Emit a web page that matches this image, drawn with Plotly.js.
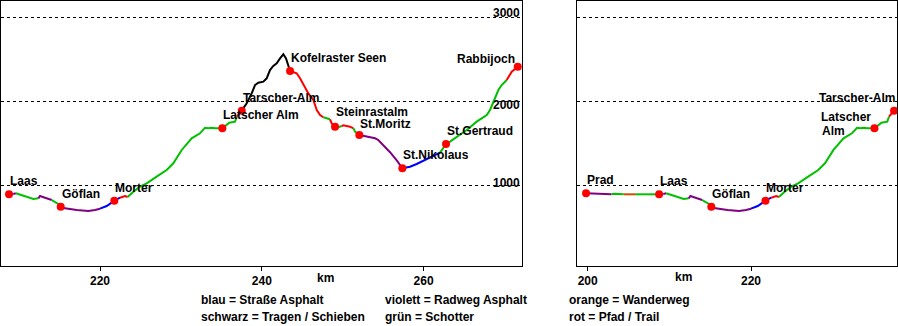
<!DOCTYPE html>
<html>
<head>
<meta charset="utf-8">
<script src="https://cdn.plot.ly/plotly-3.0.1.min.js"></script>
<style>html,body{margin:0;padding:0;background:#fff;}#chart{width:898px;height:326px;}</style>
</head>
<body>
<div id="chart"></div>
<script>
// ---- Data: route profile (km, elevation m) and surface of each segment starting at that point ----
const km = [199.8, 201.5, 202.9, 203.3, 204.4, 205.9, 208.45, 208.75, 209.28, 209.6,
  210.73, 211.76, 212.38, 212.58, 213.2, 214.03, 214.44, 214.85, 215.14, 215.46,
  217.12, 218.55, 219.38, 220.0, 220.82, 221.44, 221.77, 222.47, 223.09, 223.42,
  224.12, 224.94, 225.77, 227.0, 228.24, 229.06, 230.1, 231.33, 232.36, 232.98,
  233.39, 233.8, 234.2, 235.12, 235.66, 235.98, 236.69, 236.9, 237.52, 238.13,
  238.75, 239.16, 239.57, 240.19, 240.6, 241.01, 241.42, 241.84, 242.25, 242.66,
  242.99, 243.28, 243.49, 244.31, 244.72, 245.34, 245.75, 246.37, 246.79, 247.2,
  247.6, 248.43, 248.64, 249.05, 249.46, 249.88, 250.07, 250.9, 251.32, 251.52,
  252.05, 253.17, 254.0, 254.4, 255.02, 255.85, 256.7, 257.37, 258.32, 259.14,
  259.96, 260.79, 262.03, 262.77, 263.26, 264.09, 265.33, 266.56, 267.8, 268.21,
  268.83, 269.24, 269.65, 270.27, 270.89, 271.63];
const elev = [901, 893, 889, 897, 889, 889, 889, 889, 893, 901,
  869, 833, 841, 869, 849, 821, 801, 774, 742, 726,
  702, 690, 702, 718, 750, 790, 813, 849, 869, 857,
  920, 980, 1020, 1099, 1179, 1258, 1417, 1556, 1615, 1682,
  1675, 1682, 1675, 1675, 1714, 1742, 1754, 1813, 1885, 1972,
  2091, 2190, 2218, 2230, 2270, 2369, 2417, 2449, 2508, 2556,
  2508, 2408, 2357, 2330, 2270, 2170, 2091, 2012, 1893, 1833,
  1806, 1782, 1734, 1694, 1687, 1702, 1710, 1694, 1675, 1635,
  1595, 1575, 1556, 1536, 1476, 1390, 1290, 1199, 1218, 1250,
  1290, 1330, 1385, 1488, 1516, 1575, 1655, 1754, 1833, 1893,
  2051, 2131, 2190, 2250, 2349, 2408];
// b = blau, v = violett, o = orange, k = schwarz, g = grün, r = rot
const surface = ['v','v','g','g','o','g','b','b','v','g',
  'g','g','v','v','v','g','g','g','v','v',
  'v','v','v','b','b','b','b','r','r','g',
  'g','g','g','g','g','g','g','g','g','g',
  'g','g','g','g','g','g','g','r','k','k',
  'k','k','k','k','k','k','k','k','k','k',
  'k','k','r','r','r','r','r','r','r','r',
  'g','r','r','g','g','r','r','r','g','g',
  'v','v','v','v','v','v','v','b','b','b',
  'b','b','g','g','g','g','g','g','g','g',
  'g','g','g','r','r','r'];

const placeNames = ['Prad','Laas','Göflan','Morter','Latscher Alm','Tarscher-Alm','Kofelraster Seen','Steinrastalm','St.Moritz','St.Nikolaus','St.Gertraud','Rabbijoch'];
const placeKm   = [199.8, 208.75, 215.14, 221.77, 235.12, 237.52, 243.49, 249.05, 252.05, 257.37, 262.77, 271.63];
const placeElev = [901, 889, 742, 813, 1675, 1885, 2357, 1694, 1595, 1199, 1488, 2408];

const gridElev = [1000, 2000, 3000];
const xTicksLeft = [220, 240, 260];
const xTicksRight = [200, 220];

const legendRows = [
  ['blau = Straße Asphalt', 'violett = Radweg Asphalt', 'orange = Wanderweg'],
  ['schwarz = Tragen / Schieben', 'grün = Schotter', 'rot = Pfad / Trail']
];

// ---- Styles ----
const surfaceColors = {b:'#0000ff', v:'#800080', o:'#c85000', k:'#000000', g:'#00c000', r:'#ff0000'};
const FONT = {family:'"Liberation Sans", Arial, sans-serif', size:12, color:'#000', weight:'bold'};
const W = 898, H = 326;
const px = v => v / W, py = v => (H - v) / H;

function profileTraces(i0, i1, xa, ya) {
  const traces = [];
  let a = i0;
  while (a < i1) {
    let b = a + 1;
    while (b < i1 && surface[b] === surface[a]) b++;
    traces.push({x: km.slice(a, b + 1), y: elev.slice(a, b + 1), xaxis: xa, yaxis: ya,
      mode: 'lines', line: {color: surfaceColors[surface[a]], width: 2},
      hoverinfo: 'skip', showlegend: false});
    a = b;
  }
  return traces;
}

const iLaas = placeNames.indexOf('Laas');
const idxLaas = km.indexOf(placeKm[iLaas]);
const idxTarscher = km.indexOf(placeKm[placeNames.indexOf('Tarscher-Alm')]);

const data = [
  ...profileTraces(idxLaas, km.length - 1, 'x', 'y'),
  ...profileTraces(0, idxTarscher, 'x2', 'y2'),
  {x: placeKm, y: placeElev, xaxis: 'x', yaxis: 'y', mode: 'markers',
   marker: {color: '#ff0000', size: 8}, hoverinfo: 'skip', showlegend: false},
  {x: placeKm, y: placeElev, xaxis: 'x2', yaxis: 'y2', mode: 'markers',
   marker: {color: '#ff0000', size: 8}, hoverinfo: 'skip', showlegend: false}
];

const annotations = [];
function label(i, xr, yr, text, opts) {
  annotations.push(Object.assign({x: placeKm[i], y: placeElev[i], xref: xr, yref: yr,
    text: text, showarrow: false, font: FONT, xanchor: 'left', yanchor: 'middle',
    xshift: 0, yshift: 13, borderpad: 0}, opts || {}));
}
// left panel labels
for (let i = 1; i < placeNames.length; i++) {
  let o = {};
  if (placeNames[i] === 'Rabbijoch') o = {xanchor: 'right', xshift: -2, yshift: 8};
  if (placeNames[i] === 'Steinrastalm') o = {yshift: 15};
  if (placeNames[i] === 'St.Moritz') o = {yshift: 11};
  label(i, 'x', 'y', placeNames[i], o);
}
// right panel labels
for (let i = 0; i <= 5; i++) {
  const n = placeNames[i];
  if (n === 'Latscher Alm') {
    const parts = n.split(' ');
    label(i, 'x2', 'y2', parts[0], {xanchor: 'right', xshift: -2, yshift: 11});
    label(i, 'x2', 'y2', parts[1], {xanchor: 'left', xshift: -53, yshift: -3});
  } else if (n === 'Tarscher-Alm') {
    label(i, 'x2', 'y2', n, {xanchor: 'right', xshift: 2, yshift: 13});
  } else {
    label(i, 'x2', 'y2', n);
  }
}
// elevation labels (left panel only)
const gridShift = [2, -4, 3.5];
gridElev.forEach((g, j) => annotations.push({x: px(521), xref: 'paper', y: g, yref: 'y',
  text: String(g), showarrow: false, font: FONT, xanchor: 'right', yanchor: 'middle',
  yshift: gridShift[j], borderpad: 0}));
// km labels
annotations.push({x: px(325.5), y: py(278), xref: 'paper', yref: 'paper', text: 'km', showarrow: false, font: FONT, xanchor: 'center', yanchor: 'middle'});
annotations.push({x: px(683.5), y: py(277), xref: 'paper', yref: 'paper', text: 'km', showarrow: false, font: FONT, xanchor: 'center', yanchor: 'middle'});
// legend text
const colX = [200, 383.5, 567.5], rowY = [300, 317];
legendRows.forEach((row, r) => row.forEach((t, c) => annotations.push({x: px(colX[c]), y: py(rowY[r]),
  xref: 'paper', yref: 'paper', text: t, showarrow: false, font: FONT, xanchor: 'left', yanchor: 'middle', borderpad: 0})));

const yBase = {range: [35.7, 3190.5], tickvals: gridElev, showticklabels: false, ticks: '',
  showgrid: true, gridcolor: '#000', gridwidth: 1, griddash: 'dot', zeroline: false,
  showline: true, linecolor: '#000', linewidth: 1, mirror: true, domain: [py(266), py(1)], fixedrange: true};
const xBase = {ticks: 'outside', ticklen: 4, tickwidth: 1, tickcolor: '#000', tickfont: FONT,
  showgrid: false, zeroline: false, showline: true, linecolor: '#000', linewidth: 1, mirror: true, fixedrange: true};

const layout = {
  width: W, height: H, margin: {l: 0, r: 0, t: 0, b: 0}, paper_bgcolor: '#fff', plot_bgcolor: '#fff',
  showlegend: false, font: FONT,
  xaxis: Object.assign({}, xBase, {range: [207.76, 272.16], tickvals: xTicksLeft, domain: [px(1), px(522)], anchor: 'y'}),
  yaxis: Object.assign({}, yBase, {anchor: 'x'}),
  xaxis2: Object.assign({}, xBase, {range: [198.69, 237.88], tickvals: xTicksRight, domain: [px(577), px(897)], anchor: 'y2'}),
  yaxis2: Object.assign({}, yBase, {anchor: 'x2'}),
  annotations: annotations
};

Plotly.newPlot('chart', data, layout, {staticPlot: true, displayModeBar: false});
</script>
</body>
</html>
